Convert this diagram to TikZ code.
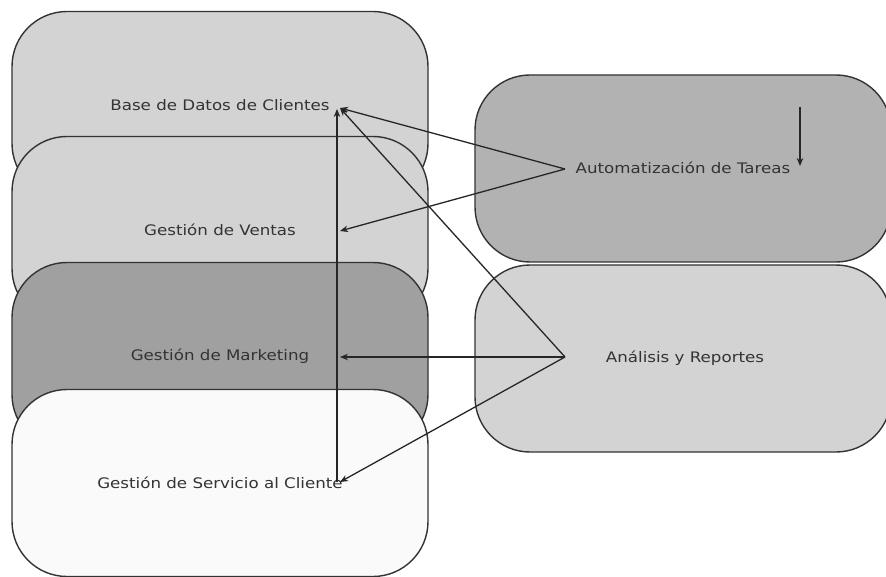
\documentclass[tikz,border=0pt]{standalone}
\usepackage{fontspec}
\setmainfont{DejaVu Sans}
\usetikzlibrary{arrows.meta}
\definecolor{bordc}{HTML}{333333}
\definecolor{txtc}{HTML}{333333}
\definecolor{lightfill}{HTML}{D3D3D3}
\definecolor{midfill}{HTML}{B2B2B2}
\definecolor{darkfill}{HTML}{A0A0A0}
\definecolor{whitefill}{HTML}{FAFAFA}
\tikzset{
  boxnode/.style={draw=bordc, line width=1.4pt, rounded corners=55pt,
    minimum width=416pt, minimum height=187pt, inner sep=0pt},
  lbl/.style={font=\fontsize{14.5}{16}\selectfont, text=txtc, inner sep=0pt,
    xscale=1.15, transform shape},
  conn/.style={draw=black!85, line width=1.3pt, -{Stealth[length=8pt,width=6.5pt]}},
}
\begin{document}
\begin{tikzpicture}[x=1pt,y=-1pt]
\useasboundingbox (0,0) rectangle (886,577);
\fill[white] (0,0) rectangle (886,577);
% left stack
\node[boxnode, fill=lightfill] (bd) at (220,105) {};
\node[lbl] (bdl) at (220,105) {Base de Datos de Clientes};
\node[boxnode, fill=lightfill] (gv) at (220,230) {};
\node[lbl] (gvl) at (220,230) {Gestión de Ventas};
\node[boxnode, fill=darkfill] (gm) at (220,356) {};
\node[lbl] (gml) at (220,356) {Gestión de Marketing};
\node[boxnode, fill=whitefill] (gs) at (220,483) {};
\node[lbl] (gsl) at (220,483) {Gestión de Servicio al Cliente};
% right column
\node[boxnode, fill=midfill] (at) at (683,168.5) {};
\node[lbl] (atl) at (683,168) {Automatización de Tareas};
\node[boxnode, fill=lightfill] (ar) at (683,358.5) {};
\node[lbl] (arl) at (685,358) {Análisis y Reportes};
% connector endpoints
\coordinate (pBD) at (340,108);
\coordinate (pGV) at (340,231);
\coordinate (pGM) at (340,357);
\coordinate (pGS) at (340,482);
\coordinate (pGSv) at (337,482);
\coordinate (pBDv) at (337,109);
\coordinate (pAT) at (565,169);
\coordinate (pAR) at (565,357);
\coordinate (pLoopA) at (800,107);
\coordinate (pLoopB) at (800,166);
% connectors
\draw[conn] (pAT) -- (pBD);
\draw[conn] (pAT) -- (pGV);
\draw[conn] (pAR) -- (pBD);
\draw[conn] (pAR) -- (pGM);
\draw[conn] (pAR) -- (pGS);
\draw[conn] (pGSv) -- (pBDv);
\draw[conn] (pLoopA) -- (pLoopB);
\end{tikzpicture}
\end{document}
